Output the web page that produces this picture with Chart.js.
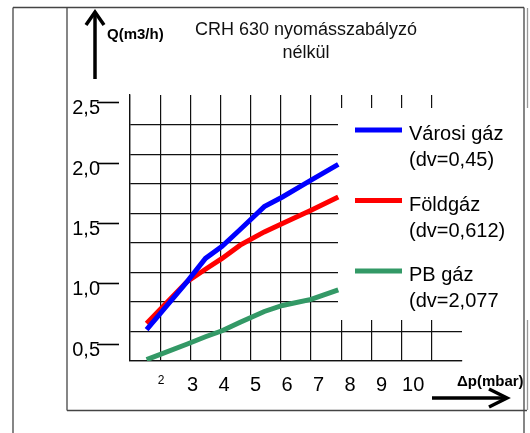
<!DOCTYPE html>
<html><head><meta charset="utf-8">
<script src="https://cdn.jsdelivr.net/npm/chart.js@4/dist/chart.umd.min.js"></script>
<style>html,body{margin:0;padding:0;background:#fff;}canvas{display:block;}</style>
</head><body>
<canvas id="c" width="530" height="433"></canvas>
<script>
// ---- data ----
const pressure   = [1.55, 2.9, 3.5, 4.05, 4.65, 5.45, 6.05, 7.0, 7.9];   // Δp (grid units)
const varosiGaz  = [0.62, 1.02, 1.21, 1.31, 1.45, 1.64, 1.72, 1.86, 1.99];
const foldGaz    = [0.67, 1.02, 1.12, 1.21, 1.32, 1.43, 1.50, 1.61, 1.72];
const pbGaz      = [0.37, 0.50, 0.56, 0.61, 0.68, 0.77, 0.82, 0.87, 0.95];
const seriesNames  = ['Városi gáz', 'Földgáz', 'PB gáz'];
const seriesNotes  = ['(dv=0,45)', '(dv=0,612)', '(dv=2,077'];
const seriesColors = ['#0000ff', '#ff0000', '#339966'];
const xTickValues = [2, 3, 4, 5, 6, 7, 8, 9, 10];
const xTickLabels = ['2', '3', '4', '5', '6', '7', '8', '9', '10'];
const yTickValues = [0.5, 1.0, 1.5, 2.0, 2.5];
const yTickLabels = ['0,5', '1,0', '1,5', '2,0', '2,5'];
const gridColumns = [1, 2, 3, 4, 5, 6, 7, 8, 9, 10, 11, 12];
const titleLines = ['CRH 630 nyomásszabályzó', 'nélkül'];
const yAxisTitle = 'Q(m3/h)';
const xAxisTitle = 'Δp(mbar)';

const yMin = 0.359, yMax = 2.566;
const gridRowCount = 10;
const FAM = '"Liberation Sans", Arial, sans-serif';
Chart.defaults.font.family = FAM;
Chart.defaults.color = '#000';

const seriesValues = [varosiGaz, foldGaz, pbGaz];
const datasets = seriesValues.map((vals, s) => ({
  label: seriesNames[s],
  note: seriesNotes[s],
  data: pressure.map((p, i) => ({ x: p, y: vals[i] })),
  borderColor: seriesColors[s],
  backgroundColor: seriesColors[s],
  borderWidth: 5,
  pointRadius: 0,
  tension: 0,
  fill: false,
  xAxisID: 'x',
  yAxisID: 'y'
}));

function seg(ctx, x1, y1, x2, y2) { ctx.beginPath(); ctx.moveTo(x1, y1); ctx.lineTo(x2, y2); ctx.stroke(); }
function poly(ctx, pts) { ctx.beginPath(); ctx.moveTo(pts[0][0], pts[0][1]); for (let i = 1; i < pts.length; i++) ctx.lineTo(pts[i][0], pts[i][1]); ctx.stroke(); }

const decor = {
  id: 'decor',
  beforeDatasetsDraw(chart) {
    const ctx = chart.ctx, a = chart.chartArea;
    ctx.save();
    ctx.fillStyle = '#fff';
    ctx.fillRect(338, 108, a.right - 338 + 2, 320 - 108);
    ctx.restore();
  },
  afterDraw(chart) {
    const ctx = chart.ctx;
    ctx.save();
    // frames
    ctx.strokeStyle = '#444'; ctx.lineWidth = 1.3;
    seg(ctx, 13, 7.5, 524, 7.5);
    seg(ctx, 13, 7.5, 13, 433);
    seg(ctx, 67, 7.5, 67, 410.5);
    seg(ctx, 67, 410.5, 527, 410.5);
    seg(ctx, 524, 7.5, 524, 433);
    ctx.strokeStyle = '#999';
    seg(ctx, 527.5, 8, 527.5, 108);
    seg(ctx, 527.5, 320, 527.5, 410);
    // arrows
    ctx.strokeStyle = '#000'; ctx.lineWidth = 3.5; ctx.lineJoin = 'miter';
    seg(ctx, 95, 79, 95, 14);
    poly(ctx, [[86, 25], [95, 12], [104, 25]]);
    seg(ctx, 432, 398, 506, 398);
    poly(ctx, [[489, 389], [507, 398], [489, 407]]);
    // title
    ctx.fillStyle = '#111';
    ctx.textAlign = 'center'; ctx.textBaseline = 'middle';
    ctx.font = '18px ' + FAM;
    ctx.fillText(titleLines[0], 306, 30);
    ctx.fillText(titleLines[1], 306, 53);
    // axis titles
    ctx.fillStyle = '#000';
    ctx.font = 'bold 15px ' + FAM;
    ctx.textAlign = 'left';
    ctx.fillText(yAxisTitle, 107, 35);
    ctx.fillText(xAxisTitle, 457, 382);
    // legend
    chart.data.datasets.forEach((ds, i) => {
      const y0 = 130 + i * 70.5;
      ctx.strokeStyle = ds.borderColor; ctx.lineWidth = 5; ctx.lineCap = 'butt';
      seg(ctx, 355, y0, 402, y0);
      ctx.fillStyle = '#000';
      ctx.font = '20px ' + FAM;
      ctx.textAlign = 'left'; ctx.textBaseline = 'alphabetic';
      ctx.fillText(ds.label, 409, y0 + 10);
      ctx.fillText(ds.note, 409, y0 + 36);
    });
    ctx.restore();
  }
};

new Chart(document.getElementById('c'), {
  type: 'line',
  data: { datasets },
  options: {
    responsive: false,
    animation: false,
    devicePixelRatio: 1,
    layout: { padding: { left: 59, right: 68, top: 95, bottom: 32 } },
    plugins: { legend: { display: false }, tooltip: { enabled: false }, title: { display: false } },
    scales: {
      x: {
        type: 'linear', position: 'bottom', weight: 0,
        min: 1, max: 12,
        afterBuildTicks: s => { s.ticks = gridColumns.map(v => ({ value: v })); },
        afterFit: s => { s.height = 0; },
        ticks: { display: false },
        grid: { color: c => (c.tick && c.tick.value === 12) ? 'rgba(0,0,0,0)' : '#111', lineWidth: 1.2, drawTicks: false },
        border: { display: true, color: '#111', width: 1.3 }
      },
      xl: {
        type: 'linear', position: 'bottom', weight: 1,
        min: 1.013, max: 11.55,
        afterBuildTicks: s => { s.ticks = xTickValues.map(v => ({ value: v })); },
        afterFit: s => { s.height = 40; },
        ticks: {
          autoSkip: false, maxRotation: 0, padding: 4, color: '#000',
          callback: (v, i) => xTickLabels[i],
          font: c => ({ family: FAM, size: (c.tick && c.tick.value === xTickValues[0]) ? 12 : 20 })
        },
        grid: { display: false },
        border: { display: false }
      },
      y: {
        type: 'linear', position: 'left', weight: 0,
        min: yMin, max: yMax,
        afterBuildTicks: s => {
          const t = [];
          for (let i = 0; i < gridRowCount; i++) t.push({ value: yMin + (yMax - yMin) * i / (gridRowCount - 1) });
          s.ticks = t;
        },
        afterFit: s => { s.width = 11; },
        ticks: { display: false },
        grid: { color: c => (c.index === gridRowCount - 1) ? 'rgba(0,0,0,0)' : '#111', lineWidth: 1.2, drawTicks: false },
        border: { display: true, color: '#111', width: 1.3 }
      },
      yl: {
        type: 'linear', position: 'left', weight: 1,
        min: yMin, max: yMax,
        afterBuildTicks: s => { s.ticks = yTickValues.map(v => ({ value: v })); },
        afterFit: s => { s.width = 60; },
        ticks: {
          padding: -3, labelOffset: 6, color: '#000',
          font: { family: FAM, size: 20 },
          callback: (v, i) => yTickLabels[i]
        },
        grid: { display: true, drawOnChartArea: false, drawTicks: true, tickLength: 22, tickColor: '#000', tickWidth: 1.6 },
        border: { display: false }
      }
    }
  },
  plugins: [decor]
});
</script>
</body></html>
